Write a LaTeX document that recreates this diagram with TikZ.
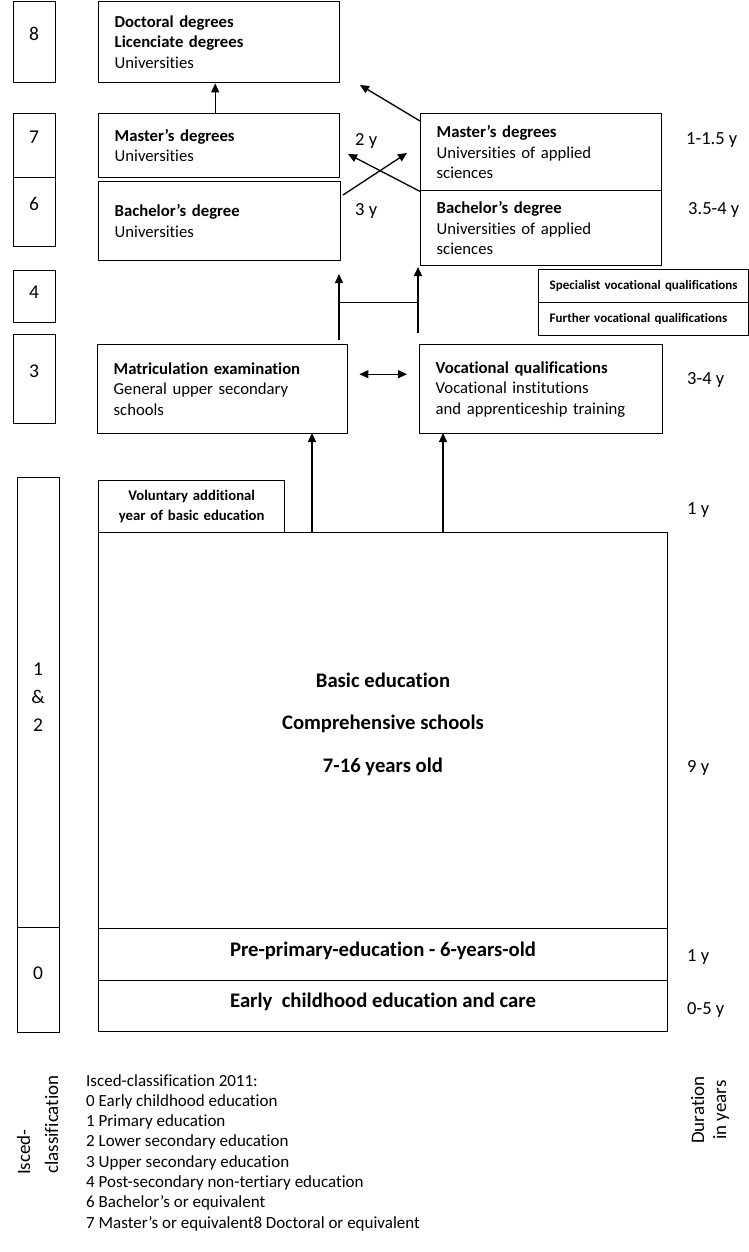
\documentclass[tikz,border=0pt]{standalone}
\usepackage{fontspec}
\setmainfont{Carlito}[Ligatures=CommonOff, WordSpace={1,0,0}]
\usetikzlibrary{arrows.meta,calc}
\newcommand{\bxfont}{\fontsize{16.7}{20.5}\selectfont}
\begin{document}
\begin{tikzpicture}[x=1pt,y=-1pt,
  bx/.style={draw, line width=1.4pt, anchor=north west, inner ysep=0pt, inner xsep=16pt, align=left, font=\bxfont},
  sbx/.style={draw, line width=1.4pt, anchor=north west, inner ysep=0pt, inner xsep=11pt, align=left, font=\fontsize{13}{15}\selectfont\bfseries},
  isc/.style={draw, line width=0.8pt, anchor=north west, minimum width=42pt, inner sep=0pt, font=\fontsize{19.5}{22}\selectfont},
  num/.style={font=\fontsize{19.5}{22}\selectfont, inner sep=0pt},
  arr/.style={line width=1.3pt, -{Triangle[length=9pt,width=8pt]}},
  dur/.style={font=\fontsize{18.5}{20}\selectfont, anchor=west, inner sep=0pt},
  big/.style={font=\fontsize{20.7}{42.5}\selectfont\bfseries, align=center, inner sep=0pt},
]
\useasboundingbox (0,0) rectangle (749,1252);

% ISCED boxes
\node[isc, minimum height=81pt] (i8) at (13,1) {};
\node[isc, minimum height=64pt] (i7) at (13,113) {};
\node[isc, minimum height=69pt] (i6) at (13,177) {};
\node[isc, minimum height=52pt] (i4) at (13,270) {};
\node[isc, minimum height=89pt] (i3) at (13,334) {};
\node[isc, minimum height=450pt] (i12) at (17,477) {};
\node[isc, minimum height=105pt] (i0) at (17,927) {};
\node[num] (n8) at (34,34) {8};
\node[num] (n7) at (34,137) {7};
\node[num] (n6) at (34,204) {6};
\node[num] (n4) at (34,292) {4};
\node[num] (n3) at (34,371) {3};
\node[num, align=center, font=\fontsize{19.5}{28}\selectfont] (n12) at (38,697) {1\\\&\\2};
\node[num] (n0) at (38,973) {0};

% Main boxes
\node[bx, text width=209pt, minimum height=81pt] (doc) at (98,1) {\textbf{Doctoral degrees}\\\textbf{Licenciate degrees}\\Universities};
\node[bx, text width=209pt, minimum height=64pt] (mu) at (98,113) {\textbf{Master’s degrees}\\Universities};
\node[bx, text width=210pt, minimum height=79pt] (bu) at (98,181) {\textbf{Bachelor’s degree}\\Universities};
\node[bx, text width=209pt, minimum height=77pt] (mua) at (420,113) {\textbf{Master’s degrees}\\Universities of applied\\sciences};
\node[bx, text width=209pt, minimum height=75pt] (bua) at (420,190) {\textbf{Bachelor’s degree}\\Universities of applied\\sciences};
\node[sbx, text width=188pt, minimum height=33pt] (spec) at (538,269) {\mbox{Specialist vocational qualifications}};
\node[sbx, text width=188pt, minimum height=33pt] (furt) at (538,302) {\mbox{Further vocational qualifications}};
\node[bx, text width=218pt, minimum height=89pt] (matr) at (97,344) {\textbf{Matriculation examination}\\General upper secondary\\schools};
\node[bx, text width=211pt, minimum height=89pt] (voc) at (419,344) {\textbf{Vocational qualifications}\\Vocational institutions\\and apprenticeship training};
\node[bx, text width=164pt, inner xsep=11pt, minimum height=52pt, align=center, font=\fontsize{14.7}{20}\selectfont\bfseries] (vol) at (98,480) {Voluntary additional\\year of basic education};
\node[bx, text width=537pt, minimum height=396pt] (basic) at (98,532) {};
\node[big] (basictxt) at (383,724) {Basic education\\Comprehensive schools\\7-16 years old};
\node[bx, text width=537pt, minimum height=52pt] (pre) at (98,928) {};
\node[big] (pretxt) at (383,951) {Pre-primary-education - 6-years-old};
\node[bx, text width=537pt, minimum height=51pt] (early) at (98,980) {};
\node[big] (earlytxt) at (383,1002) {Early\ \ childhood education and care};

% Connectors
\draw[arr] ([xshift=-4pt]mu.north) -- ([xshift=-4pt]doc.south);
\coordinate (t1) at (360,85);
\draw[arr] ([yshift=-8pt]mua.north west) -- (t1);
\coordinate (c1) at (348,154);
\draw[arr] (mua.south west) -- (c1);
\coordinate (c2) at (343,195);
\coordinate (c3) at (407,153);
\draw[arr] (c2) -- (c3);
\coordinate (a1) at (339,340);
\coordinate (a2) at (339,274);
\coordinate (b1) at (418,333);
\coordinate (b2) at (418,267);
\draw[arr] (a1) -- (a2);
\draw[arr] (b1) -- (b2);
\coordinate (h1) at (339,302);
\coordinate (h2) at (418,302);
\draw[line width=0.5pt] (h1) -- (h2);
\draw[line width=1.3pt, {Triangle[length=9pt,width=8pt]}-{Triangle[length=9pt,width=8pt]}] ([xshift=11pt,yshift=15pt]matr.east) -- ([xshift=-12pt,yshift=15pt]voc.west);
\coordinate (m1) at (312,532);
\coordinate (m2) at (312,433);
\coordinate (v1) at (443,532);
\coordinate (v2) at (443,433);
\draw[arr] (m1) -- (m2);
\draw[arr] (v1) -- (v2);

% Duration labels
\node[dur] (d2) at (355,141) {2 y};
\node[dur] (d3) at (355,211) {3 y};
\node[dur] (d15) at (686,140) {1-1.5 y};
\node[dur] (d354) at (688,210) {3.5-4 y};
\node[dur] (d34) at (687,380) {3-4 y};
\node[dur] (d1a) at (687,510) {1 y};
\node[dur] (d9) at (687,768) {9 y};
\node[dur] (d1b) at (687,957) {1 y};
\node[dur] (d05) at (687,1010) {0-5 y};

% Bottom
\node[rotate=90, anchor=base west, inner sep=0pt, font=\fontsize{19}{22}\selectfont] (isa) at (30,1175) {Isced-};
\node[rotate=90, anchor=base west, inner sep=0pt, font=\fontsize{19}{22}\selectfont] (isb) at (58,1174) {classification};
\node[rotate=90, align=center, inner sep=0pt, font=\fontsize{19}{22}\selectfont] (dy) at (710,1110) {Duration\\in years};
\node[anchor=north west, align=left, inner sep=0pt, font=\fontsize{17}{20.3}\selectfont] (list) at (86,1074) {Isced-classification 2011:\\0 Early childhood education\\1 Primary education\\2 Lower secondary education\\3 Upper secondary education\\4 Post-secondary non-tertiary education\\6 Bachelor’s or equivalent\\7 Master’s or equivalent8 Doctoral or equivalent};
\end{tikzpicture}
\end{document}
